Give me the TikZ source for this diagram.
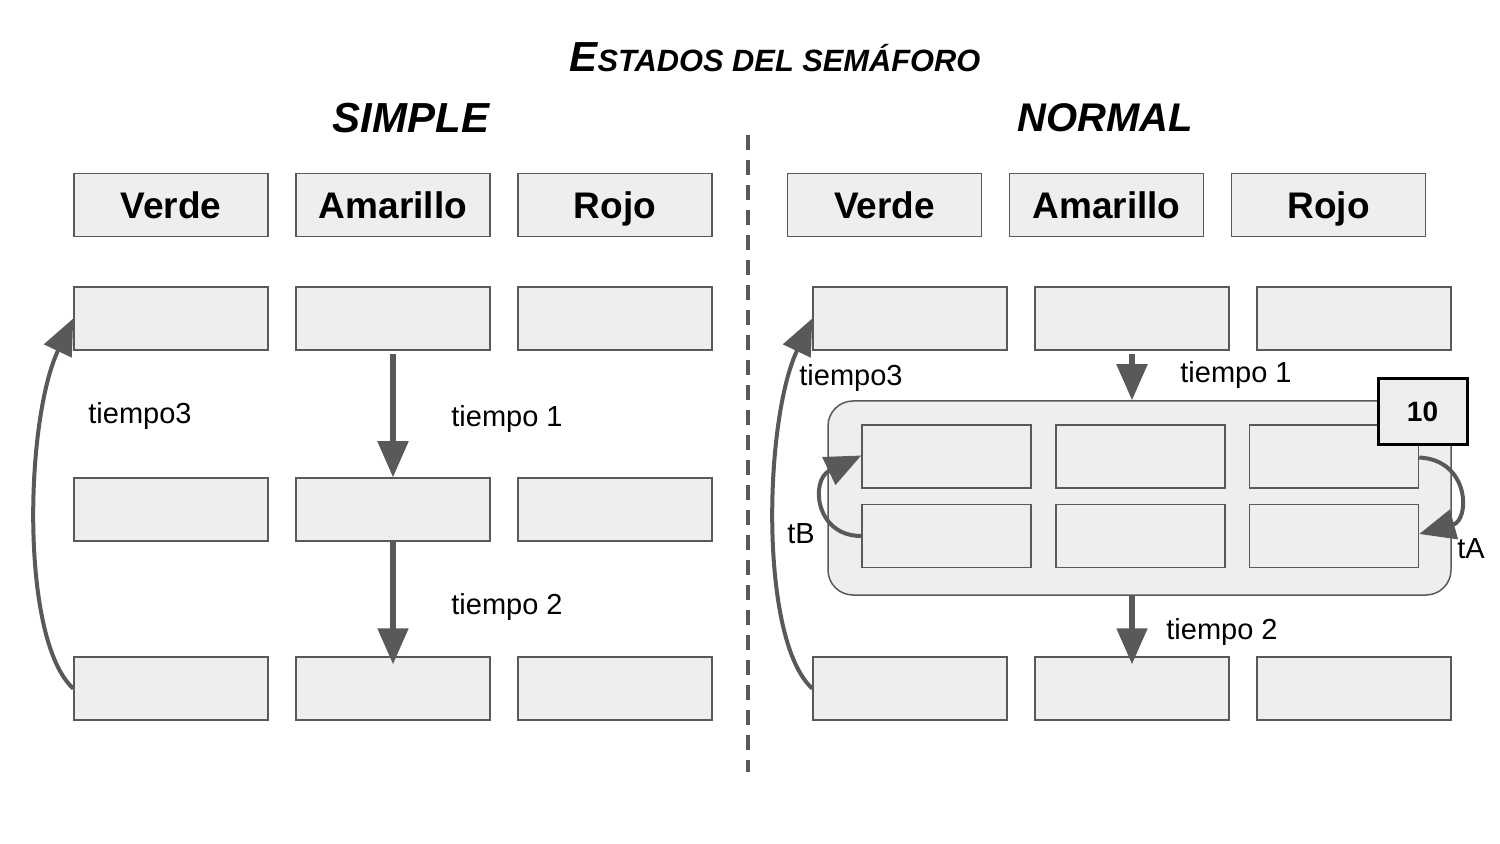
\documentclass[tikz,border=0pt]{standalone}
\usepackage{fontspec}
\setmainfont{Liberation Sans}
\usetikzlibrary{arrows.meta}
\definecolor{boxc}{HTML}{EEEEEE}
\definecolor{bordc}{HTML}{595959}
\tikzset{
  cell/.style={draw=bordc, fill=boxc, line width=0.75pt, minimum width=97pt, minimum height=31.5pt, inner sep=0pt},
  icell/.style={cell, minimum width=84.5pt},
  hdr/.style={cell, font=\fontsize{18.5pt}{21pt}\selectfont\bfseries, text height=13.2pt, text depth=0pt},
  lbl/.style={anchor=west, inner sep=0pt, font=\fontsize{14.5pt}{17pt}\selectfont},
  ttl/.style={inner sep=0pt, font=\bfseries\itshape},
  arr/.style={draw=bordc, line width=2.6pt, -{Triangle[length=18pt,width=15pt]}},
  carr/.style={draw=bordc, line width=2pt, -{Triangle[length=18pt,width=15pt]}},
}
\begin{document}
\begin{tikzpicture}[x=0.5pt,y=-0.5pt]
\useasboundingbox (0,0) rectangle (1500,844);
% titles
\node[ttl] (title) at (775,57) {{\fontsize{21pt}{24pt}\selectfont E}{\fontsize{15.4pt}{18pt}\selectfont STADOS DEL SEMÁFORO}};
\node[ttl, font=\fontsize{21pt}{24pt}\selectfont\bfseries\itshape] (simple) at (411,118) {SIMPLE};
\node[ttl, font=\fontsize{20pt}{24pt}\selectfont\bfseries\itshape] (normal) at (1105,118) {NORMAL};
% divider
\coordinate (d1) at (748,135);
\coordinate (d2) at (748,772);
\draw[bordc, line width=2pt, dash pattern=on 7.5pt off 5pt] (d1) -- (d2);
% left side
\node[hdr] (Lh1) at (171,205) {Verde};
\node[hdr] (Lh2) at (393,205) {Amarillo};
\node[hdr] (Lh3) at (615,205) {Rojo};
\node[cell] (L21) at (171,318.5) {};
\node[cell] (L22) at (393,318.5) {};
\node[cell] (L23) at (615,318.5) {};
\node[cell] (L31) at (171,509.5) {};
\node[cell] (L32) at (393,509.5) {};
\node[cell] (L33) at (615,509.5) {};
\node[cell] (L41) at (171,688.5) {};
\node[cell] (L42) at (393,688.5) {};
\node[cell] (L43) at (615,688.5) {};
\draw[arr] ([yshift=-1.5pt]L22.south) -- (L32.north);
\draw[arr] (L32.south) -- ([yshift=-4pt]L42.north);
\draw[carr] (L41.west) .. controls (20,640) and (25,420) .. (L21.west);
\node[lbl] (t1L) at (451,419) {tiempo 1};
\node[lbl] (t2L) at (451,607) {tiempo 2};
\node[lbl] (t3L) at (88,416) {tiempo3};
% right side
\node[hdr] (Rh1) at (884.5,205) {Verde};
\node[hdr] (Rh2) at (1106.5,205) {Amarillo};
\node[hdr] (Rh3) at (1328.5,205) {Rojo};
\node[cell] (R21) at (910,318.5) {};
\node[cell] (R22) at (1132,318.5) {};
\node[cell] (R23) at (1354,318.5) {};
\node[cell] (R41) at (910,688.5) {};
\node[cell] (R42) at (1132,688.5) {};
\node[cell] (R43) at (1354,688.5) {};
\node[draw=bordc, fill=boxc, line width=0.75pt, rounded corners=12.5pt, minimum width=311.5pt, minimum height=97pt, inner sep=0pt] (G) at (1139.5,498) {};
\node[icell] (I11) at (946.5,456.5) {};
\node[icell] (I12) at (1140.5,456.5) {};
\node[icell] (I13) at (1334,456.5) {};
\node[icell] (I21) at (946.5,536) {};
\node[icell] (I22) at (1140.5,536) {};
\node[icell] (I23) at (1334,536) {};
\node[draw=black, fill=boxc, line width=1.5pt, minimum width=44.5pt, minimum height=33pt, inner sep=0pt, font=\fontsize{14pt}{16pt}\selectfont\bfseries] (ten) at (1422.5,412) {10};
\draw[arr] ([yshift=-1.5pt]R22.south) -- (R22.south |- G.north);
\draw[arr] (R42.north |- G.south) -- ([yshift=-4pt]R42.north);
\draw[carr] (R41.west) .. controls (759,640) and (764,420) .. (R21.west);
\draw[carr] (I21.west) .. controls (815,536) and (810,480) .. ([yshift=0.5pt]I11.west);
\draw[carr] ([yshift=-0.5pt]I13.east) .. controls (1470,460) and (1470,520) .. ([yshift=1pt]I23.east);
\node[lbl] (t1R) at (1180,375) {tiempo 1};
\node[lbl] (t2R) at (1166,632) {tiempo 2};
\node[lbl] (t3R) at (799,378) {tiempo3};
\node[lbl] (tB) at (787,534) {tB};
\node[lbl] (tA) at (1457,549) {tA};
\end{tikzpicture}
\end{document}
